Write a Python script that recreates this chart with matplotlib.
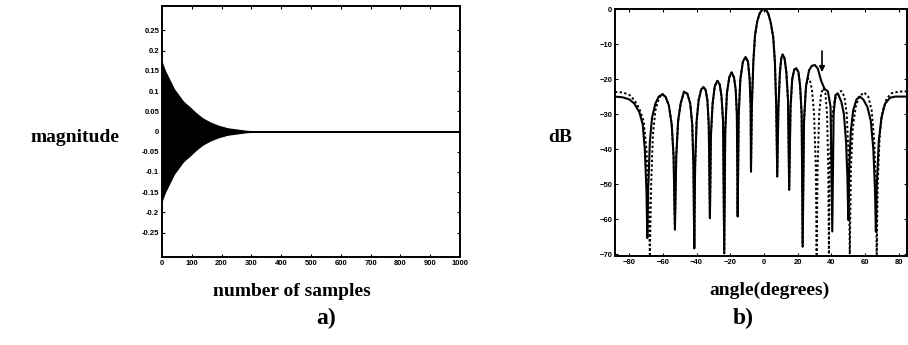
import matplotlib
matplotlib.use("Agg")
import matplotlib.pyplot as plt

# a) envelope of the decaying response, read every 10 samples
env_samples = list(range(0, 310, 10))
env_values = [0.17, 0.15, 0.135, 0.12, 0.105, 0.095, 0.085, 0.075, 0.068, 0.062,
              0.055, 0.048, 0.042, 0.036, 0.031, 0.027, 0.023, 0.020, 0.017, 0.014,
              0.012, 0.010, 0.008, 0.007, 0.006, 0.005, 0.004, 0.003, 0.002, 0.0015, 0.001]
n_samples = 1000

# b) beam patterns (dB vs angle)
left_angle = [-88.5, -84, -80, -77, -74, -72, -70.8, -69.8, -69.3, -68.8, -67.8, -66.5, -64.5, -62.5, -60.5, -58.5]
solid_left_db = [-25.0, -25.2, -25.8, -27.0, -29.5, -33, -40, -52, -65.4, -52, -38, -31, -27, -25, -24.4, -25]
dotted_left_angle = [-88.5, -84, -80, -77, -74, -71.5, -69.8, -68.6, -67.8, -67, -66, -64.5, -62.5, -60.3, -58.5]
dotted_left_db = [-23.7, -23.8, -24.5, -26, -28.5, -32, -40, -55, -70, -50, -36, -29, -25.5, -24.2, -25]

mid_angle = [-56.5, -54.8, -53.7, -52.9, -52.1, -51, -49.5, -47.5, -45.5, -43.8, -42.6, -41.9, -41.4, -40.9,
             -40.0, -38.8, -37.3, -36, -34.7, -33.6, -32.8, -32.1, -31.5, -30.5, -29.2, -27.7, -26.3, -25.2,
             -24.3, -23.6, -23.0, -22.0, -20.6, -19.2, -17.8, -16.8, -16.1, -15.6, -15.0, -14.0, -12.5, -10.9,
             -9.5, -8.5, -7.9, -7.7, -7.2, -6.3, -5.3, -4, -2.5, -1, 0, 1.0, 2.5, 4, 5.5, 6.5, 7.3, 7.9, 8.6,
             9.5, 10.3, 11.1, 12.2, 13.3, 14.3, 15.0, 15.8, 16.8, 18.0, 19.2, 20.5, 21.5, 22.4, 23.0]
mid_db = [-27.5, -33, -42, -63, -42, -32, -27, -23.6, -24.2, -27, -33, -45, -68.3, -45,
          -32, -26, -23, -22.3, -23, -26, -33, -59.7, -36, -27, -22, -20.5, -21.5, -25,
          -32, -69.7, -35, -24, -19.5, -18.1, -19.5, -23, -30, -59.2, -30, -20, -15, -13.7,
          -15, -20, -28, -46.4, -28, -15, -7.5, -3.5, -1.2, -0.2, 0, -0.2, -1.2, -3.8, -8, -15, -28, -47.8, -28,
          -18, -14, -13, -14, -18, -26, -51.6, -28, -20, -17.3, -16.9, -18, -22, -30, -67.8]

solid_right_angle = [23.8, 25, 26.8, 28.5, 30.3, 32, 34, 36, 38, 39.6, 40.6, 41.4, 42.5, 44, 46, 47.5, 48.8,
                     49.6, 50.1, 50.7, 51.6, 53, 55, 57, 59, 61.5, 63.5, 65, 66, 66.5, 67.1, 68.2, 69.8,
                     72, 75, 78, 85]
solid_right_db = [-32, -22, -17.5, -16.2, -16.0, -17, -20.5, -22.8, -23.5, -28, -63.5, -30, -24.5, -24.2,
                  -26.5, -30, -38, -48, -60.2, -45, -35, -29, -25.8, -25, -25.8, -28, -32, -40, -52, -63.5,
                  -50, -38, -31, -27, -25.3, -25, -25]
dotted_right_angle = [23.8, 24.8, 26.0, 27.2, 28.5, 29.8, 30.8, 31.3, 31.9, 32.8, 34, 35.3, 36.5, 37.5, 38.2,
                      38.6, 39.1, 40.2, 42, 44, 46, 47.8, 49.2, 50.3, 51.0, 51.7, 52.8, 54.5, 56.5, 59.5,
                      62, 64, 65.6, 66.5, 67.0, 67.6, 68.8, 70.5, 73, 76, 80, 85]
dotted_right_db = [-33, -23, -19.8, -20, -23, -30, -45, -70, -45, -30, -24, -22.6, -24, -30, -45,
                   -70, -45, -32, -26, -23.8, -23.4, -25, -30, -42, -70, -45, -34, -28, -25, -23.8,
                   -25, -29, -38, -52, -70, -50, -36, -29, -25.5, -24, -23.6, -23.5]

left_yticks = [0.25, 0.2, 0.15, 0.1, 0.05, 0, -0.05, -0.1, -0.15, -0.2, -0.25]
left_xticks = list(range(0, 1100, 100))
right_xticks = [-80, -60, -40, -20, 0, 20, 40, 60, 80]
right_yticks = [0, -10, -20, -30, -40, -50, -60, -70]

SERIF = ["Liberation Serif", "DejaVu Serif"]
TICK_FONT = dict(fontsize=5.5, fontweight="bold", family="Liberation Sans")

fig = plt.figure(figsize=(9.08, 3.45), dpi=100)


def style_axes(ax):
    ax.tick_params(direction="in", length=2.5, width=0.8, top=True, right=True, pad=2)
    for sp in ax.spines.values():
        sp.set_linewidth(1.4)
    for lbl in ax.get_xticklabels() + ax.get_yticklabels():
        lbl.set_fontsize(TICK_FONT["fontsize"])
        lbl.set_fontweight(TICK_FONT["fontweight"])
        lbl.set_family(TICK_FONT["family"])


# ---- a) ----
ax1 = fig.add_axes([162 / 908, 88 / 345, 298 / 908, 251 / 345])
upper = env_values + [0.0, 0.0]
lower = [-v for v in env_values] + [0.0, 0.0]
xs = env_samples + [310, n_samples]
ax1.fill_between(xs, lower, upper, color="black", linewidth=0.8)
ax1.plot([0, n_samples], [0, 0], color="black", lw=1.2)
ax1.set_xlim(0, n_samples)
ax1.set_ylim(-0.31, 0.31)
ax1.set_xticks(left_xticks)
ax1.set_xticklabels([str(t) for t in left_xticks])
ax1.set_yticks(left_yticks)
ax1.set_yticklabels(["0.25", "0.2", "0.15", "0.1", "0.05", "0", "-0.05", "-0.1", "-0.15", "-0.2", "-0.25"])
style_axes(ax1)

# ---- b) ----
ax2 = fig.add_axes([615 / 908, 89 / 345, 292 / 908, 247 / 345])
ax2.plot(left_angle + mid_angle + solid_right_angle, solid_left_db + mid_db + solid_right_db,
         color="black", lw=1.5)
ax2.plot(dotted_left_angle + mid_angle + dotted_right_angle, dotted_left_db + mid_db + dotted_right_db,
         color="black", lw=1.4, ls=(0, (1.2, 1.2)))
ax2.annotate("", xy=(34.5, -18.8), xytext=(34.5, -11.2),
             arrowprops=dict(arrowstyle="-|>", color="black", lw=1.2, mutation_scale=8))
ax2.set_xlim(-88.5, 85)
ax2.set_ylim(-70.5, 0)
ax2.set_xticks(right_xticks)
ax2.set_yticks(right_yticks)
style_axes(ax2)

# labels
lab = dict(family=SERIF, fontsize=14, fontweight="bold", ha="center", va="center")
fig.text(75 / 908, 1 - 137 / 345, "magnitude", **lab)
fig.text(292 / 908, 1 - 292 / 345, "number of samples", **lab)
fig.text(560 / 908, 1 - 137 / 345, "dB", **lab)
fig.text(770 / 908, 1 - 290 / 345, "angle(degrees)", **lab)
lab["fontsize"] = 17
fig.text(326 / 908, 1 - 318 / 345, "a)", **lab)
fig.text(743 / 908, 1 - 318 / 345, "b)", **lab)

fig.savefig("out.png", dpi=100, facecolor="white")
